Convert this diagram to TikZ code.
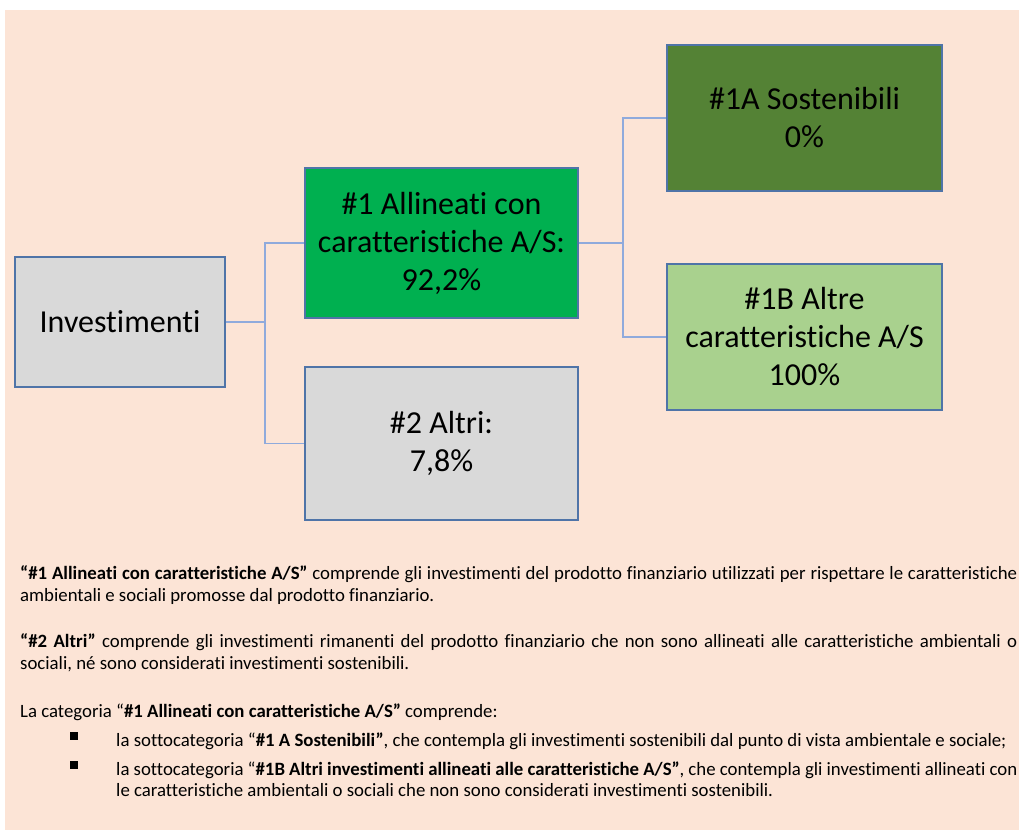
\documentclass[tikz,border=0pt]{standalone}
\usepackage{fontspec}
\setmainfont{Carlito}[Ligatures={NoCommon}]
\usepackage{xcolor}
\usepackage{tikz}

\definecolor{peach}{HTML}{FCE4D6}
\definecolor{boxgray}{HTML}{D9D9D9}
\definecolor{boxgreen}{HTML}{00B050}
\definecolor{darkgreen}{HTML}{548235}
\definecolor{lightgreen}{HTML}{A9D18E}
\definecolor{boxline}{HTML}{4F74A8}
\definecolor{connline}{HTML}{8FAADC}

\begin{document}
\begin{tikzpicture}[x=1pt, y=-1pt,
    box/.style={draw=boxline, line width=1.3pt, align=center, inner sep=0pt,
        font=\fontsize{32}{38}\selectfont},
    conn/.style={draw=connline, line width=1.2pt}]
    \useasboundingbox (0,0) rectangle (1019,830);

    % Background
    \fill[peach] (5,10) rectangle (1019,830);

    % Boxes
    \node[box, fill=boxgray, minimum width=210pt, minimum height=130pt] (inv) at (120,322) {Investimenti};
    \node[box, fill=boxgreen, minimum width=273pt, minimum height=150pt] (allin) at (441.5,243) {\#1 Allineati con\\caratteristiche A/S:\\92,2\%};
    \node[box, fill=boxgray, minimum width=273pt, minimum height=153pt] (altri) at (441.5,443.5) {\#2 Altri:\\7,8\%};
    \node[box, fill=darkgreen, minimum width=275pt, minimum height=146pt] (sost) at (804.5,118) {\#1A Sostenibili\\0\%};
    \node[box, fill=lightgreen, minimum width=275pt, minimum height=146pt] (altre) at (804.5,337) {\#1B Altre\\caratteristiche A/S\\100\%};

    % Connectors
    \coordinate (j1) at (265,322);
    \coordinate (j2) at (623,243);
    \draw[conn] (inv.east) -- (j1);
    \draw[conn] (j1) |- (allin.west);
    \draw[conn] (j1) |- (altri.west);
    \draw[conn] (allin.east) -- (j2);
    \draw[conn] (j2) |- (sost.west);
    \draw[conn] (j2) |- (altre.west);

    % Notes
    \node[anchor=north west, inner sep=0pt, text width=997pt, align=justify,
        font=\fontsize{18.8}{22}\selectfont] (notes) at (20,565) {%
        {\bfseries “\#1 Allineati con caratteristiche A/S”} comprende gli investimenti del prodotto finanziario utilizzati per rispettare le caratteristiche\linebreak ambientali e sociali promosse dal prodotto finanziario.\par\vspace{24pt}
        {\bfseries “\#2 Altri”} comprende gli investimenti rimanenti del prodotto finanziario che non sono allineati alle caratteristiche ambientali o\linebreak sociali, né sono considerati investimenti sostenibili.\par\vspace{26pt}
        La categoria “{\bfseries \#1 Allineati con caratteristiche A/S”} comprende:\par
        \begin{list}{\rule[6pt]{8pt}{8pt}}{\setlength{\leftmargin}{96pt}\setlength{\labelwidth}{8pt}%
            \setlength{\labelsep}{38pt}\setlength{\topsep}{6pt}\setlength{\itemsep}{8pt}%
            \setlength{\parsep}{0pt}\setlength{\baselineskip}{21pt}}
        \item la sottocategoria “{\bfseries \#1 A Sostenibili”}, che contempla gli investimenti sostenibili dal punto di vista ambientale e sociale;
        \item la sottocategoria “{\bfseries \#1B Altri investimenti allineati alle caratteristiche A/S”}, che contempla gli investimenti allineati con\linebreak le caratteristiche ambientali o sociali che non sono considerati investimenti sostenibili.
        \end{list}};
\end{tikzpicture}
\end{document}
